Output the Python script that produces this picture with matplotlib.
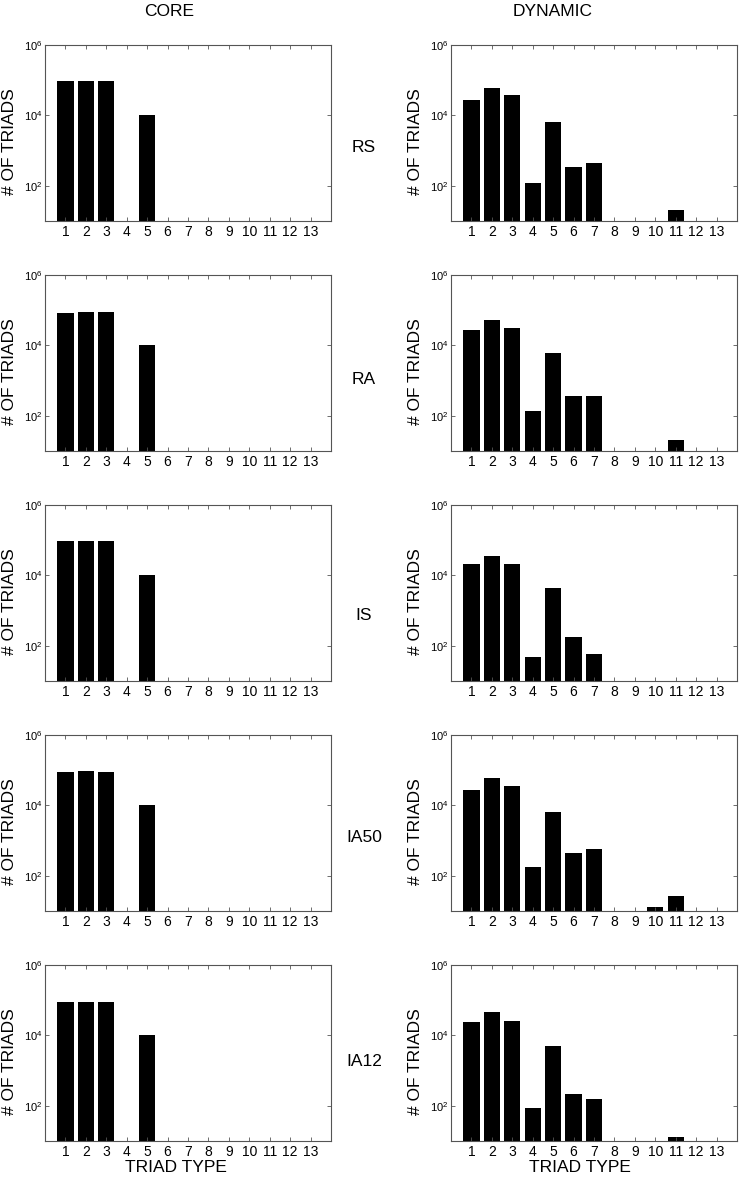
import numpy as np
import matplotlib.pyplot as plt

plt.rcParams["font.family"] = ["Liberation Sans", "DejaVu Sans"]
plt.rcParams["mathtext.fontset"] = "custom"
plt.rcParams["mathtext.rm"] = "Liberation Sans"
plt.rcParams["mathtext.it"] = "Liberation Sans"

triad_types = np.arange(1, 14)
row_names = ["RS", "RA", "IS", "IA50", "IA12"]

# counts per triad type 1..13 (0 = no bar)
core_rs = [93000, 93000, 93000, 0, 10500, 0, 0, 0, 0, 0, 0, 0, 0]
core_ra = [83000, 89000, 89000, 0, 10200, 0, 0, 0, 0, 0, 0, 0, 0]
core_is = [93000, 93000, 93000, 0, 10500, 0, 0, 0, 0, 0, 0, 0, 0]
core_ia50 = [87000, 95000, 91000, 0, 10500, 0, 0, 0, 0, 0, 0, 0, 0]
core_ia12 = [87000, 91000, 91000, 0, 10200, 0, 0, 0, 0, 0, 0, 0, 0]

dyn_rs = [28000, 62000, 39000, 120, 6700, 340, 445, 0, 0, 0, 19, 0, 0]
dyn_ra = [27500, 53000, 32000, 135, 6000, 360, 360, 0, 0, 0, 19, 0, 0]
dyn_is = [21000, 36000, 21000, 48, 4300, 175, 58, 0, 0, 0, 0, 0, 0]
dyn_ia50 = [27500, 59000, 35000, 175, 6500, 455, 575, 0, 0, 12, 25, 0, 0]
dyn_ia12 = [24500, 45500, 26000, 83, 5100, 215, 160, 0, 0, 0, 12, 0, 0]

core_data = [core_rs, core_ra, core_is, core_ia50, core_ia12]
dyn_data = [dyn_rs, dyn_ra, dyn_is, dyn_ia50, dyn_ia12]

W, H = 742, 1181
fig = plt.figure(figsize=(W / 100, H / 100), dpi=100)

row_tops = [45, 275, 505, 735, 965]
ax_h = 176
col_lefts = [45, 451]
ax_w = 286
label_y = [147, 380, 615, 838, 1062]
spine_col = "#555555"


def draw_panel(ax, values):
    vals = np.array(values, dtype=float)
    mask = vals > 0
    ax.bar(triad_types[mask], vals[mask], width=0.8, color="black",
           edgecolor="none", bottom=1)
    ax.set_yscale("log")
    ax.set_ylim(10, 1e6)
    ax.set_xlim(0, 14)
    ax.set_xticks(triad_types)
    ax.set_yticks([1e2, 1e4, 1e6])
    ax.yaxis.set_minor_locator(plt.NullLocator())
    ax.tick_params(direction="in", length=3, width=0.6, color=spine_col,
                   top=True, right=True)
    ax.tick_params(axis="x", pad=3, labelsize=10)
    ax.tick_params(axis="y", pad=2, labelsize=8)
    for s in ax.spines.values():
        s.set_color(spine_col)
        s.set_linewidth(0.8)
    ax.set_ylabel("# OF TRIADS", fontsize=12.5)
    ax.yaxis.set_label_coords(-0.097, 0.45)


for r in range(5):
    for c in range(2):
        left = col_lefts[c] / W
        bottom = 1 - (row_tops[r] + ax_h) / H
        ax = fig.add_axes([left, bottom, ax_w / W, ax_h / H])
        data = core_data[r] if c == 0 else dyn_data[r]
        draw_panel(ax, data)
    fig.text(364 / W, 1 - label_y[r] / H, row_names[r], fontsize=12.5,
             ha="center", va="center")

fig.text(169 / W, 1 - 12 / H, "CORE", fontsize=12.5, ha="center", va="center")
fig.text(553 / W, 1 - 12 / H, "DYNAMIC", fontsize=12.5, ha="center", va="center")
fig.text(176 / W, 1 - 1168 / H, "TRIAD TYPE", fontsize=12.5, ha="center", va="center")
fig.text(580 / W, 1 - 1168 / H, "TRIAD TYPE", fontsize=12.5, ha="center", va="center")

fig.savefig("out.png", dpi=100)
